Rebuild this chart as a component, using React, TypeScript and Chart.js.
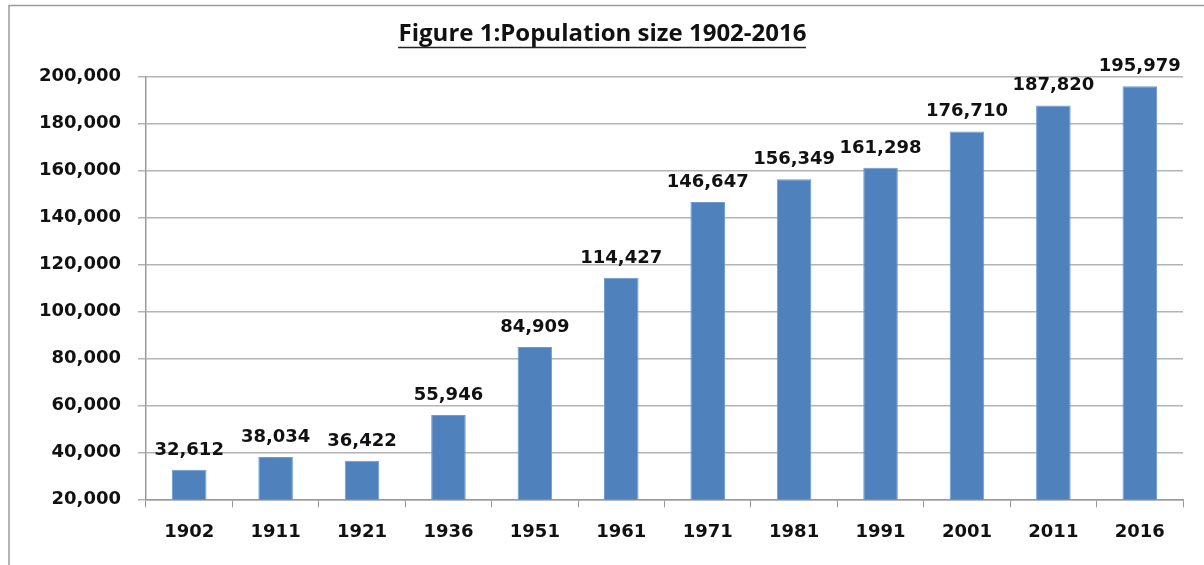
import React, { useEffect, useRef } from "react";
import { Chart, registerables } from "chart.js";

Chart.register(...registerables);

const years = ["1902", "1911", "1921", "1936", "1951", "1961", "1971", "1981", "1991", "2001", "2011", "2016"];
const population = [32612, 38034, 36422, 55946, 84909, 114427, 146647, 156349, 161298, 176710, 187820, 195979];
const titleText = "Figure 1:Population size 1902-2016";

const fmt = (v: number) => v.toLocaleString("en-US");

const dataLabelPlugin = {
  id: "dataLabels",
  afterDatasetsDraw(chart: any) {
    const ctx = chart.ctx;
    const meta = chart.getDatasetMeta(0);
    ctx.save();
    ctx.font = "bold 18px 'DejaVu Sans'";
    ctx.fillStyle = "#111111";
    ctx.textAlign = "center";
    ctx.textBaseline = "alphabetic";
    meta.data.forEach((el: any, i: number) => {
      ctx.fillText(fmt(population[i]), el.x, el.y - 15);
    });
    ctx.restore();
  },
};

const framePlugin = {
  id: "frame",
  beforeDraw(chart: any) {
    const ctx = chart.ctx;
    ctx.save();
    ctx.fillStyle = "#ffffff";
    ctx.fillRect(0, 0, chart.width, chart.height);
    ctx.strokeStyle = "#9a9a9a";
    ctx.lineWidth = 1.5;
    ctx.beginPath();
    ctx.moveTo(9, chart.height);
    ctx.lineTo(9, 5.5);
    ctx.lineTo(chart.width, 5.5);
    ctx.stroke();
    ctx.restore();
  },
  afterDraw(chart: any) {
    const ctx = chart.ctx;
    ctx.save();
    ctx.font = "bold 24px 'Open Sans'";
    const w = ctx.measureText(titleText).width;
    const cx = chart.width / 2;
    const y = 47.5;
    ctx.strokeStyle = "#222222";
    ctx.lineWidth = 1.5;
    ctx.beginPath();
    ctx.moveTo(cx - w / 2, y);
    ctx.lineTo(cx + w / 2, y);
    ctx.stroke();
    ctx.restore();
  },
};

export default function App() {
  const ref = useRef<HTMLCanvasElement | null>(null);
  useEffect(() => {
    if (!ref.current) return;
    const chart = new Chart(ref.current, {
      type: "bar",
      data: {
        labels: years,
        datasets: [
          {
            data: population,
            backgroundColor: "#4F81BD",
            borderColor: "#6f9bd0",
            borderWidth: 1,
            barPercentage: 0.8,
            categoryPercentage: 0.5,
          },
        ],
      },
      options: {
        animation: false,
        responsive: false,
        layout: { padding: { left: 22, right: 21, top: 20, bottom: 8 } },
        plugins: {
          legend: { display: false },
          tooltip: { enabled: false },
          title: {
            display: true,
            text: titleText,
            color: "#111111",
            font: { family: "'Open Sans'", size: 24, weight: "bold" },
            padding: { top: 0, bottom: 28 },
          },
        },
        scales: {
          x: {
            grid: {
              display: true,
              drawOnChartArea: false,
              drawTicks: true,
              tickLength: 8,
              color: "#9a9a9a",
              offset: true,
            },
            border: { display: true, color: "#9a9a9a", width: 1.5 },
            ticks: {
              color: "#111111",
              font: { family: "'DejaVu Sans'", size: 18, weight: "bold" },
              padding: 14,
            },
          },
          y: {
            min: 20000,
            max: 200000,
            grid: { color: "#b4b4b4", lineWidth: 1.5, tickLength: 8 },
            border: { display: true, color: "#9a9a9a", width: 1.5 },
            ticks: {
              stepSize: 20000,
              color: "#111111",
              font: { family: "'DejaVu Sans'", size: 18, weight: "bold" },
              padding: 17,
              callback: (v: any) => fmt(Number(v)),
            },
          },
        },
      },
      plugins: [framePlugin, dataLabelPlugin],
    });
    return () => chart.destroy();
  }, []);
  return (
    <div style={{ position: "absolute", left: 0, top: 0, width: 1204, height: 565 }}>
      <canvas ref={ref} width={1204} height={565} style={{ display: "block" }} />
    </div>
  );
}
